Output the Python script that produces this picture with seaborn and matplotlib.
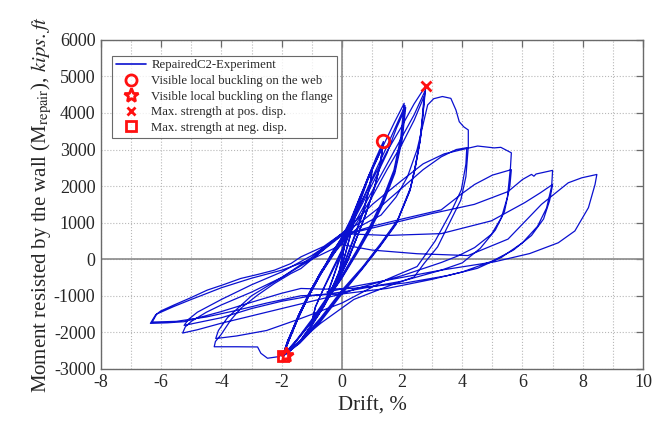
import numpy as np
import pandas as pd
import matplotlib
matplotlib.use("Agg")
import matplotlib.pyplot as plt
from matplotlib.lines import Line2D
from matplotlib.ticker import MultipleLocator
import seaborn as sns

# ---- hysteresis record, one list pair per cycle group (drift in %, moment in kips.ft) ----
drift_small = [0.00, 0.06, 0.12, 0.15, 0.10, 0.03, -0.05, -0.12, -0.15, -0.10, -0.02,
               0.06, 0.12, 0.16, 0.10, 0.02, -0.06, -0.13, -0.16, -0.10, -0.02]
moment_small = [0, 350, 620, 740, 450, 100, -250, -550, -680, -420, -80,
                300, 600, 760, 430, 60, -300, -580, -700, -400, -50]

drift_05 = [0.10, 0.25, 0.40, 0.50, 0.42, 0.28, 0.10, -0.10, -0.30, -0.45, -0.52, -0.42, -0.25,
            -0.05, 0.15, 0.32, 0.45, 0.52, 0.43, 0.25, 0.05, -0.15, -0.35, -0.50, -0.42, -0.20]
moment_05 = [450, 800, 1200, 1480, 1150, 650, 100, -350, -750, -1000, -1100, -800, -400,
             100, 550, 950, 1300, 1500, 1150, 550, -50, -500, -850, -1080, -820, -300]

drift_10 = [0.00, 0.30, 0.60, 0.85, 1.00, 0.92, 0.70, 0.40, 0.10, -0.25, -0.55, -0.80, -1.00,
            -0.88, -0.60, -0.30, 0.00, 0.30, 0.60, 0.85, 1.02, 0.92, 0.70, 0.40, 0.10, -0.25,
            -0.55, -0.80, -1.02, -0.88, -0.60, -0.30]
moment_10 = [150, 800, 1550, 2150, 2450, 1950, 1300, 600, -50, -650, -1150, -1500, -1750,
             -1300, -800, -300, 200, 850, 1600, 2200, 2480, 1950, 1250, 550, -100, -700,
             -1200, -1550, -1780, -1320, -780, -250]

drift_14 = [0.00, 0.30, 0.60, 0.90, 1.15, 1.38, 1.30, 1.10, 0.80, 0.50, 0.20, -0.20, -0.60, -1.00,
            -1.40, -1.75, -1.97, -1.80, -1.55, -1.25, -0.95, -0.60, -0.30,
            0.00, 0.30, 0.60, 0.90, 1.15, 1.36, 1.28, 1.08, 0.80, 0.50, 0.20, -0.20, -0.60, -1.00,
            -1.40, -1.75, -1.96, -1.80, -1.55, -1.25, -0.95, -0.60, -0.30,
            0.00, 0.30, 0.60, 0.90, 1.15, 1.35, 1.27, 1.08, 0.80, 0.50, 0.20, -0.20, -0.60, -1.00,
            -1.40, -1.75, -1.97, -1.80, -1.55, -1.25, -0.95, -0.60, -0.30]
moment_14 = [250, 900, 1650, 2300, 2800, 3220, 2700, 2000, 1250, 600, 0, -650, -1250, -1780,
             -2250, -2520, -2650, -2250, -1800, -1250, -750, -250, 200,
             550, 1050, 1700, 2300, 2750, 3120, 2600, 1950, 1250, 600, -20, -680, -1280, -1800,
             -2250, -2520, -2640, -2230, -1780, -1230, -730, -230, 220,
             580, 1050, 1650, 2250, 2700, 3060, 2550, 1950, 1250, 600, -40, -700, -1300, -1820,
             -2270, -2530, -2650, -2240, -1790, -1240, -740, -240, 200]

drift_21 = [0.00, 0.30, 0.60, 1.00, 1.40, 1.75, 2.07, 1.96, 1.73, 1.30, 0.90, 0.50, 0.00, -0.50,
            -1.00, -1.50, -1.97, -1.75, -1.45, -1.10, -0.70, -0.30,
            0.00, 0.35, 0.70, 1.05, 1.45, 1.80, 2.10, 1.98, 1.75, 1.32, 0.92, 0.50, 0.00, -0.50,
            -1.00, -1.50, -1.96, -1.75, -1.45, -1.10, -0.70, -0.30,
            0.00, 0.35, 0.70, 1.10, 1.50, 1.82, 2.12, 2.00, 1.76, 1.35, 0.95, 0.52, 0.00, -0.50,
            -1.00, -1.50, -1.97, -1.75, -1.45, -1.10, -0.70, -0.30]
moment_21 = [600, 1100, 1700, 2450, 3150, 3750, 4265, 3350, 2440, 1530, 850, 250, -450, -1050,
             -1650, -2200, -2650, -2150, -1550, -950, -350, 150,
             550, 1050, 1650, 2300, 3000, 3650, 4200, 3300, 2400, 1500, 820, 200, -500, -1100,
             -1700, -2220, -2640, -2150, -1550, -950, -350, 150,
             500, 1000, 1550, 2200, 2900, 3600, 4150, 3250, 2350, 1480, 800, 180, -520, -1120,
             -1720, -2230, -2650, -2160, -1560, -960, -360, 150]

drift_28 = [0.00, 0.50, 1.00, 1.50, 2.00, 2.40, 2.79, 2.70, 2.62, 2.45, 2.29, 1.85, 1.30, 0.70, 0.00,
            -0.70, -1.40, -1.97, -1.75, -1.45, -1.10, -0.70, -0.30,
            0.00, 0.50, 1.00, 1.50, 2.00, 2.40, 2.76, 2.68, 2.60, 2.44, 2.27, 1.82, 1.28, 0.68, 0.00,
            -0.70, -1.40, -1.96, -1.75, -1.45, -1.10, -0.70, -0.30,
            0.00, 0.50, 1.00, 1.50, 2.00, 2.40, 2.73, 2.66, 2.58, 2.42, 2.25, 1.80, 1.25, 0.65, 0.00,
            -0.70, -1.40, -1.97, -1.75, -1.45, -1.10, -0.70, -0.30]
moment_28 = [550, 1300, 2150, 2950, 3650, 4250, 4745, 4000, 3350, 2600, 1980, 1070, 440, -200, -850,
             -1600, -2250, -2660, -2200, -1600, -1000, -400, 150,
             450, 1100, 1850, 2600, 3350, 3950, 4600, 3850, 3250, 2500, 1900, 1000, 380, -250, -900,
             -1650, -2280, -2650, -2200, -1600, -1000, -400, 120,
             420, 1000, 1700, 2450, 3150, 3800, 4450, 3750, 3150, 2450, 1850, 950, 330, -300, -950,
             -1700, -2300, -2660, -2210, -1610, -1010, -410, 100]

drift_42a = [0.00, 0.60, 1.30, 1.80, 2.18, 2.50, 2.73, 2.85, 3.05, 3.34, 3.62, 3.79, 3.90, 4.05, 4.20,
             4.20, 4.12, 3.95, 3.62, 3.18, 2.73, 2.40, 1.50, 0.40, -0.70, -1.50, -2.08, -2.47, -2.69,
             -2.80, -3.50, -4.24,
             -4.20, -4.02, -3.69, -3.36, -2.80, -2.24, -1.69, -1.36, -0.70, 0.00]
moment_42a = [500, 900, 1206, 1700, 2256, 3000, 3808, 4220, 4390, 4450, 4400, 4080, 3760, 3620, 3535,
              3077, 2256, 1617, 1069, 337, -118, -485, -750, -1100, -1750, -2300, -2663, -2709, -2573,
              -2400, -2395, -2395,
              -2250, -2072, -1663, -1345, -982, -664, -391, -255, 200, 700]

drift_42b = [0.60, 1.30, 2.00, 2.70, 3.30, 3.80, 4.15,
             4.12, 3.97, 3.63, 3.10, 2.50, 1.50, 0.00, -1.36, -2.50, -3.50, -4.19,
             -4.10, -3.80, -3.00, -2.00, -1.00, 0.00]
moment_42b = [1000, 1450, 1950, 2450, 2800, 3000, 3050,
              2600, 1900, 1300, 500, -200, -550, -1200, -1620, -1950, -2100, -2170,
              -1950, -1600, -1000, -500, 50, 700]

drift_56a = [1.04, 1.99, 2.70, 3.40, 4.00, 4.51, 5.06, 5.28, 5.63,
             5.60, 5.50, 5.30, 4.97, 4.41, 3.86, 3.30, 2.00, 0.50, 0.00, -1.00, -2.00, -3.00, -4.00,
             -4.80, -5.29,
             -5.20, -5.00, -4.50, -4.00, -3.00, -2.00, -1.00, 0.00]
moment_56a = [1518, 2154, 2609, 2882, 3000, 3096, 3045, 3060, 2910,
              2500, 1700, 1136, 682, 318, 91, -91, -450, -800, -950, -1150, -1350, -1550, -1750,
              -1930, -2020,
              -1850, -1700, -1450, -1250, -900, -500, 0, 650]

drift_56b = [1.00, 2.00, 3.30, 4.00, 4.41, 5.00, 5.63,
             5.58, 5.40, 5.10, 4.60, 4.00, 3.30, 2.00, 0.00, -1.00, -2.00, -3.00, -4.00, -5.24,
             -5.10, -4.80, -4.00, -3.00, -2.00, -1.00, 0.00]
moment_56b = [900, 1100, 1350, 1800, 2045, 2300, 2450,
              2000, 1300, 800, 300, -100, -300, -600, -900, -1000, -1150, -1350, -1600, -1810,
              -1650, -1450, -1100, -700, -350, 100, 650]

drift_70a = [1.50, 3.00, 4.40, 5.52, 6.00, 6.30, 6.38, 6.45, 7.00,
             6.97, 6.80, 6.50, 6.00, 5.30, 4.50, 3.50, 2.10, 0.33, -0.60, -1.36, -2.02, -3.02, -4.02,
             -5.24, -5.80, -6.36,
             -6.19, -6.02, -5.58, -5.02, -4.47, -3.91, -3.36, -2.80, -2.24, -1.69, -1.36, -0.60, 0.00]
moment_70a = [950, 1250, 1500, 1850, 2180, 2320, 2270, 2330, 2430,
              2000, 1400, 900, 450, 50, -250, -450, -650, -800, -820, -800, -936, -1182, -1436,
              -1709, -1740, -1755,
              -1527, -1418, -1254, -1054, -845, -690, -527, -418, -300, -118, 64, 350, 700]

drift_70b = [1.50, 3.30, 4.97, 6.08, 6.60, 7.00,
             6.90, 6.70, 6.30, 5.70, 5.00, 4.00, 3.00, 1.50, 0.00, -1.36, -2.50, -3.50, -4.50,
             -5.50, -6.30,
             -6.15, -5.60, -5.00, -4.00, -3.00, -2.00, -1.00, 0.00]
moment_70b = [650, 700, 1050, 1550, 1820, 2045,
              1600, 1100, 650, 250, -50, -350, -550, -800, -950, -1000, -1200, -1400, -1580,
              -1700, -1720,
              -1500, -1300, -1100, -780, -520, -300, 0, 400]

drift_84 = [1.00, 2.50, 4.19, 5.52, 6.63, 7.52, 7.97, 8.47,
            8.41, 8.19, 7.74, 7.19, 6.24, 5.06, 3.29, 2.10, 0.33, -0.50]
moment_84 = [250, 150, 100, 550, 1500, 2090, 2227, 2318,
             2045, 1409, 773, 450, 155, -73, -300, -482, -755, -900]

# ---- event markers ----
web_buckling = (1.38, 3220)
flange_buckling = (-1.86, -2630)
max_pos = (2.79, 4745)
max_neg = (-1.97, -2660)

# ---- x / y tick values ----
x_ticks = [-8, -6, -4, -2, 0, 2, 4, 6, 8, 10]
y_ticks = [-3000, -2000, -1000, 0, 1000, 2000, 3000, 4000, 5000, 6000]

drift_parts = [drift_small, drift_05, drift_10, drift_14, drift_21, drift_28,
               drift_42a, drift_42b, drift_56a, drift_56b, drift_70a, drift_70b, drift_84]
moment_parts = [moment_small, moment_05, moment_10, moment_14, moment_21, moment_28,
                moment_42a, moment_42b, moment_56a, moment_56b, moment_70a, moment_70b, moment_84]

drift = np.concatenate([np.asarray(p, float) for p in drift_parts])
moment = np.concatenate([np.asarray(p, float) for p in moment_parts])
record = pd.DataFrame({"step": np.arange(len(drift)), "drift": drift, "moment": moment})

sns.set_style("white")
plt.rcParams["font.family"] = ["Liberation Serif", "DejaVu Serif"]
plt.rcParams["mathtext.fontset"] = "stix"
plt.rcParams["axes.unicode_minus"] = False

fig = plt.figure(figsize=(6.69, 4.24), dpi=100)
ax = fig.add_axes([0.151, 0.130, 0.810, 0.776])

blue = "#0a10d0"
red = "#ff1010"

sns.lineplot(data=record, x="drift", y="moment", sort=False, estimator=None,
             color=blue, linewidth=0.9, ax=ax, zorder=3)

ax.plot(*web_buckling, marker="o", ms=9, mfc="none", mec=red, mew=2, ls="none", zorder=5)
ax.plot(*flange_buckling, marker="*", ms=11, mfc="none", mec=red, mew=2, ls="none", zorder=5)
ax.plot(*max_pos, marker="x", ms=7, mec=red, mew=2, ls="none", zorder=5)
ax.plot(*max_neg, marker="s", ms=7, mfc="none", mec=red, mew=2, ls="none", zorder=5)

ax.set_xlim(-8, 10)
ax.set_ylim(-3000, 6000)
ax.set_xticks(x_ticks)
ax.set_yticks(y_ticks)
ax.xaxis.set_minor_locator(MultipleLocator(1))
ax.grid(True, which="both", axis="x", linestyle=":", color="#b8b8b8", linewidth=0.8)
ax.grid(True, which="major", axis="y", linestyle=":", color="#b8b8b8", linewidth=0.8)
ax.axhline(0, color="#8a8a8a", linewidth=1.2, zorder=2)
ax.axvline(0, color="#8a8a8a", linewidth=1.2, zorder=2)

for s in ax.spines.values():
    s.set_color("#6a6a6a")
    s.set_linewidth(1.0)
ax.tick_params(axis="both", which="major", direction="in", length=5, width=0.9,
               color="#6a6a6a", top=True, right=True, labelsize=13, pad=4)
ax.tick_params(axis="both", which="minor", length=0, top=True, right=True)

ax.set_xlabel("Drift, %", fontsize=15, labelpad=4)
ax.set_ylabel(r"Moment resisted by the wall (M$_{\mathrm{repair}}$), $\mathit{kips.ft}$",
              fontsize=15, labelpad=0)

handles = [
    Line2D([], [], color=blue, linewidth=1.2),
    Line2D([], [], marker="o", ms=8, mfc="none", mec=red, mew=2, ls="none"),
    Line2D([], [], marker="*", ms=10, mfc="none", mec=red, mew=2, ls="none"),
    Line2D([], [], marker="x", ms=6, mec=red, mew=2, ls="none"),
    Line2D([], [], marker="s", ms=7, mfc="none", mec=red, mew=2, ls="none"),
]
labels = ["RepairedC2-Experiment", "Visible local buckling on the web",
          "Visible local buckling on the flange", "Max. strength at pos. disp.",
          "Max. strength at neg. disp."]
leg = ax.legend(handles, labels, loc="upper left", bbox_to_anchor=(0.020, 0.952),
                fontsize=9.2, frameon=True, fancybox=False, edgecolor="#444444",
                handlelength=2.4, handletextpad=0.4, labelspacing=0.28, borderpad=0.3,
                borderaxespad=0.0)
leg.get_frame().set_linewidth(0.8)
leg.set_zorder(6)

fig.savefig("out.png", dpi=100)
